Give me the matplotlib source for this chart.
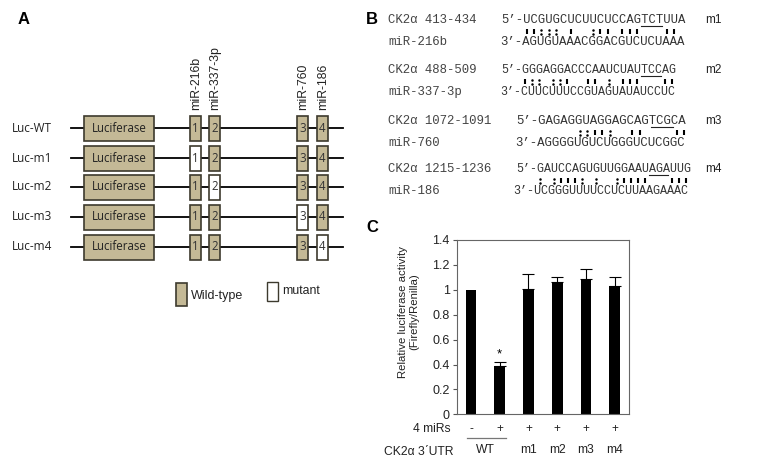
import matplotlib
matplotlib.use('Agg')
import matplotlib.pyplot as plt
from matplotlib.patches import Rectangle
from matplotlib.lines import Line2D

# ---- panel A data ----
constructs = ['Luc-WT', 'Luc-m1', 'Luc-m2', 'Luc-m3', 'Luc-m4']
site_names = ['miR-216b', 'miR-337-3p', 'miR-760', 'miR-186']
site_labels = ['1', '2', '3', '4']
# which site is mutated in each construct (None = all wild-type)
mutated = [None, 0, 1, 2, 3]

# ---- panel B data ----
target_names = ['CK2\u03b1 413-434', 'CK2\u03b1 488-509', 'CK2\u03b1 1072-1091', 'CK2\u03b1 1215-1236']
mirna_names = ['miR-216b', 'miR-337-3p', 'miR-760', 'miR-186']
target_seqs = ['UCGUGCUCUUCUCCAGTCTUUA', 'GGGAGGACCCAAUCUAUTCCAG',
               'GAGAGGUAGGAGCAGTCGCA', 'GAUCCAGUGUUGGAAUAGAUUG']
mirna_seqs = ['AGUGUAAACGGACGUCUCUAAA', 'CUUCUUUCCGUAGUAUAUCCUC',
              'AGGGGUGUCUGGGUCUCGGC', 'UCGGGUUUUCCUCUUAAGAAAC']
pairings = ['||::: |  :|| |||   ||', '|:: ::|  || : |||   ||',
            '     ::||:  ||    ||', ': :|||: :  :||||   |||']
mut_start = [16, 17, 15, 16]   # 0-based index of mutated triplet
mut_names = ['m1', 'm2', 'm3', 'm4']

# ---- panel C data ----
groups = ['-', '+', '+', '+', '+', '+']
utr = ['WT', 'm1', 'm2', 'm3', 'm4']
activity = [1.0, 0.39, 1.01, 1.06, 1.09, 1.03]
err = [0.0, 0.03, 0.12, 0.045, 0.08, 0.07]

W, H = 760, 467
fig = plt.figure(figsize=(W / 100, H / 100), dpi=100)
ax0 = fig.add_axes([0, 0, 1, 1])
ax0.set_xlim(0, W)
ax0.set_ylim(H, 0)
ax0.axis('off')

tan = '#c4b996'
edge = '#3d3a2e'
sans = 'Liberation Sans'
ui = 'Open Sans'
txt = '#222222'

# panel letters
for lab, x, y in [('A', 18, 20), ('B', 366, 19), ('C', 366, 227)]:
    ax0.text(x, y, lab, fontsize=12, fontweight='bold', family=sans, va='center', ha='left')

# ---- panel A ----
row_y = [128, 158, 187, 217, 247]
box_h = 25
site_x = [(190, 201), (209, 220), (297, 308), (317, 328)]
for i, name in enumerate(constructs):
    y = row_y[i]
    ax0.text(12, y, name, fontsize=8.5, family=ui, va='center', color=txt)
    ax0.plot([71, 343], [y, y], color='black', lw=1.3, zorder=1)
    ax0.add_patch(Rectangle((84, y - box_h / 2), 70, box_h, facecolor=tan,
                            edgecolor=edge, lw=1.2, zorder=2))
    ax0.text(119, y, 'Luciferase', fontsize=8.3, family=ui, ha='center', va='center',
             color=txt, zorder=3)
    for j, (x1, x2) in enumerate(site_x):
        fc = 'white' if mutated[i] == j else tan
        ax0.add_patch(Rectangle((x1, y - box_h / 2), x2 - x1, box_h, facecolor=fc,
                                edgecolor=edge, lw=1.2, zorder=2))
        ax0.text((x1 + x2) / 2, y, site_labels[j], fontsize=8.3, family=ui,
                 ha='center', va='center', color='#333333', zorder=3)

for j, name in enumerate(site_names):
    xc = (site_x[j][0] + site_x[j][1]) / 2
    ax0.text(xc + 1, 110, name, rotation=90, fontsize=8.8, family=sans, ha='center',
             va='bottom', color=txt)

# legend
ax0.add_patch(Rectangle((176, 283), 11, 23, facecolor=tan, edgecolor=edge, lw=1.2))
ax0.text(191, 296, 'Wild-type', fontsize=9, family=sans, va='center', color=txt)
ax0.add_patch(Rectangle((267, 282), 11, 19, facecolor='white', edgecolor=edge, lw=1.0))
ax0.text(282, 291, 'mutant', fontsize=8.8, family=sans, va='center', color=txt)

# ---- panel B ----
mono = 'Liberation Mono'
block_y = [20, 70, 121, 169]
top_x = [501, 501, 516.7, 516]
top_cw = [7.36, 6.96, 7.45, 6.95]
bot_x = [500, 500, 515, 513]
bot_cw = [7.4, 7.0, 7.43, 7.08]
name_cw = 7.4
seq_col = '#333333'


def fsize(cw):
    return cw / 0.6 * 0.72


for k in range(4):
    y = block_y[k]
    ax0.text(388, y, target_names[k], fontsize=fsize(name_cw), family=mono,
             va='center', color='#444444')
    ax0.text(388, y + 22, mirna_names[k], fontsize=fsize(name_cw), family=mono,
             va='center', color='#444444')
    ax0.text(top_x[k], y, '5\u2019-' + target_seqs[k], fontsize=fsize(top_cw[k]),
             family=mono, va='center', color=seq_col)
    ax0.text(bot_x[k], y + 22, '3\u2019-' + mirna_seqs[k], fontsize=fsize(bot_cw[k]),
             family=mono, va='center', color=seq_col)
    # base-pairing marks under each nucleotide of the target line
    for i, c in enumerate(pairings[k]):
        xc = top_x[k] + (3 + i + 0.5) * top_cw[k]
        yc = y + 11.5
        if c == '|':
            ax0.plot([xc, xc], [yc - 2.8, yc + 2.8], color='black', lw=1.5,
                     solid_capstyle='butt')
        elif c == ':':
            ax0.plot([xc, xc], [yc - 2.0, yc + 2.0], ls='none', marker='o',
                     ms=1.8, mew=0, color='black')
    ux = top_x[k] + (3 + mut_start[k]) * top_cw[k]
    ax0.plot([ux + 0.5, ux + 3 * top_cw[k] - 0.5], [y + 5.5, y + 5.5], color=txt, lw=0.8)
    ax0.text(705, y, mut_names[k], fontsize=8.5, family=sans, va='center', color=txt)

# ---- panel C ----
axc = fig.add_axes([456.7 / W, 1 - 414.3 / H, (629 - 456.7) / W, (414.3 - 240) / H])
xs = list(range(len(activity)))
axc.bar(xs, activity, width=0.37, color='black')
axc.errorbar(xs[1:], activity[1:], yerr=[[0] * 5, err[1:]], fmt='none',
             ecolor='black', elinewidth=0.8, capsize=4, capthick=0.8)
axc.text(1, activity[1] + err[1] + 0.06, '*', ha='center', va='center', fontsize=9.5,
         family=sans)
axc.set_xlim(-0.5, 5.5)
axc.set_ylim(0, 1.4)
axc.set_yticks([0, 0.2, 0.4, 0.6, 0.8, 1.0, 1.2, 1.4])
axc.set_yticklabels(['0', '0.2', '0.4', '0.6', '0.8', '1', '1.2', '1.4'],
                    family=sans, fontsize=9, color=txt)
axc.set_xticks([])
axc.tick_params(axis='y', length=3, width=0.8, color='#555555', pad=2)
for s in axc.spines.values():
    s.set_color('#666666')
    s.set_linewidth(0.8)
ax0.text(409, 311.5, 'Relative luciferase activity\n(Firefly/Renilla)', rotation=90,
         ha='center', va='center', family=sans, fontsize=8.2, color=txt, linespacing=1.15)

# rows under chart, in data x coordinates
trans = axc.get_xaxis_transform()
for i, g in enumerate(groups):
    axc.text(i, -0.087, g, transform=trans, ha='center', va='center', fontsize=8.5,
             family=sans, clip_on=False, color=txt)
utr_x = [0.5, 2, 3, 4, 5]
for xpos, lab in zip(utr_x, utr):
    axc.text(xpos, -0.205, lab, transform=trans, ha='center', va='center', fontsize=8.7,
             family=sans, clip_on=False, color=txt)
axc.add_line(Line2D([-0.15, 1.2], [-0.137, -0.137], transform=trans, color='#777777',
                    lw=0.9, clip_on=False))
ax0.text(451, 429, '4 miRs', ha='right', va='center', fontsize=8.7, family=sans, color=txt)
ax0.text(454, 452, 'CK2\u03b1 3\u02caUTR', ha='right', va='center', fontsize=8.7,
         family=sans, color=txt)

fig.savefig('out.png', dpi=100)
